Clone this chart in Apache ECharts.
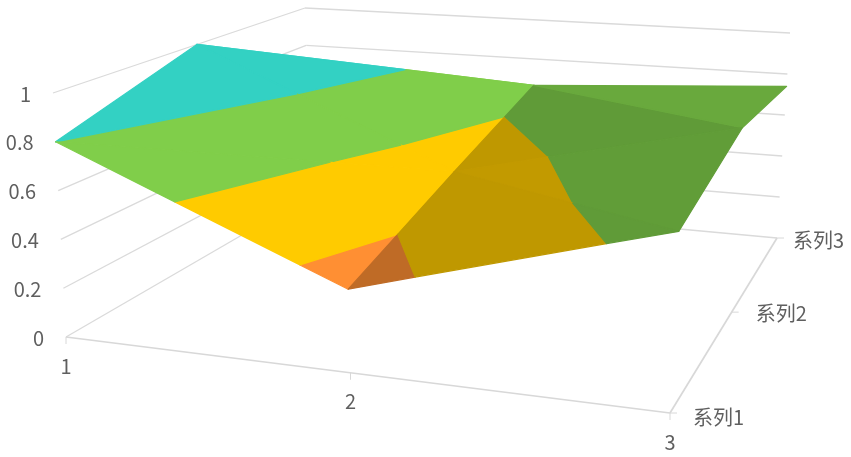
<!DOCTYPE html>
<html><head><meta charset="utf-8">
<style>html,body{margin:0;padding:0;background:#fff}#c{width:851px;height:457px;filter:blur(0.55px)}</style>
<script src="https://cdn.jsdelivr.net/npm/echarts@6/dist/echarts.min.js"></script>
</head><body><div id="c"></div>
<script>
// ---- data ----
const categories = ['1', '2', '3'];
const seriesNames = ['系列1', '系列2', '系列3'];
const valueTicks = [0, 0.2, 0.4, 0.6, 0.8, 1];
const series1 = [0.8, 0.325, 0.67];
const series2 = [1.0, 0.50, 0.79];
const series3 = [0.6, 0.665, 0.74];
const bandColors = ['#5B9BD5', '#FF8F33', '#FFCB00', '#80CE4A', '#33D1C3'];

// ---- view of the 3D box (floor and top corners of the plot box, on screen) ----
const floorQuad = [[66,337],[670,413],[777,238],[311,195]];
const topQuad   = [[53,93],[683,142],[790,33],[305,8]];
function quadMap(q){
  const [[x0,y0],[x1,y1],[x2,y2],[x3,y3]] = q;
  const dx1=x1-x2, dx2=x3-x2, sx=x0-x1+x2-x3, dy1=y1-y2, dy2=y3-y2, sy=y0-y1+y2-y3;
  const den=dx1*dy2-dx2*dy1, g=(sx*dy2-dx2*sy)/den, h=(dx1*sy-sx*dy1)/den;
  const a=x1-x0+g*x1, b=x3-x0+h*x3, d=y1-y0+g*y1, e=y3-y0+h*y3;
  return (u,v)=>{const w=g*u+h*v+1; return [(a*u+b*v+x0)/w,(d*u+e*v+y0)/w];};
}
const floorMap = quadMap(floorQuad), topMap = quadMap(topQuad);
function project(i,j,z){
  const u=i/(categories.length-1), v=j/(seriesNames.length-1);
  const f=floorMap(u,v), t=topMap(u,v);
  return [f[0]+(t[0]-f[0])*z, f[1]+(t[1]-f[1])*z];
}

// ---- surface facets, back to front: three grid nodes [cat, ser] + shade ----
const rows = [series1, series2, series3];
const facets = [
  [[0,1],[0,2],[1,2],1],
  [[0,1],[1,1],[1,2],1],
  [[0,0],[0,1],[1,1],1],
  [[0,0],[1,0],[1,1],1],
  [[1,1],[1,2],[2,1],0.75],
  [[1,2],[2,2],[2,1],0.82],
  [[1,1],[2,0],[2,1],0.76],
  [[1,0],[2,0],[1,1],0.75]
];
function clip(poly,lim,keepAbove){
  const out=[];
  for(let k=0;k<poly.length;k++){
    const a=poly[k], b=poly[(k+1)%poly.length];
    const ina=keepAbove?a[2]>=lim:a[2]<=lim, inb=keepAbove?b[2]>=lim:b[2]<=lim;
    if(ina) out.push(a);
    if(ina!==inb){const t=(lim-a[2])/(b[2]-a[2]);out.push([a[0]+(b[0]-a[0])*t,a[1]+(b[1]-a[1])*t,lim]);}
  }
  return out;
}
function shadeColor(hex,s){
  const n=parseInt(hex.slice(1),16);
  return 'rgb('+[(n>>16)&255,(n>>8)&255,n&255].map(c=>Math.round(c*s)).join(',')+')';
}
const patches=[];
facets.forEach(f=>{
  const tri=f.slice(0,3).map(([i,j])=>[i,j,rows[j][i]]);
  bandColors.forEach((col,b)=>{
    let p=clip(tri,valueTicks[b],true);
    if(p.length) p=clip(p,valueTicks[b+1],false);
    if(p.length>2) patches.push({poly:p,color:shadeColor(col,f[3])});
  });
});

// ---- frame lines: [start node, end node] in [cat, ser, z] ----
const n=categories.length-1, m=seriesNames.length-1;
const wallLines=[];
valueTicks.forEach(z=>{
  wallLines.push([[0,0,z],[0,m,z]]);
  wallLines.push([[0,m,z],[n,m,z]]);
});
const floorLines=[[[0,0,0],[n,0,0]],[[n,0,0],[n,m,0]]];
const lineItems=[...wallLines.map(l=>({l,c:'#dadada',w:1.3})),...floorLines.map(l=>({l,c:'#d8d8d8',w:1.7}))];

const labels=[];
valueTicks.forEach(z=>labels.push({text:String(z),at:[0,0,z],dx:-22,dy:1,align:'right'}));
categories.forEach((t,i)=>labels.push({text:t,at:[i,0,0],dx:0,dy:29,align:'center'}));
const serOffsets=[[23,4],[24,1],[16,2]];
seriesNames.forEach((t,j)=>labels.push({text:t,at:[n,j,0],dx:serOffsets[j][0],dy:serOffsets[j][1],align:'left'}));

const chart=echarts.init(document.getElementById('c'),null,{renderer:'canvas'});
const pt=(api,a)=>api.coord(project(a[0],a[1],a[2]));
chart.setOption({
  animation:false,
  backgroundColor:'#fff',
  grid:{left:0,right:0,top:0,bottom:0},
  xAxis:{type:'value',min:0,max:851,show:false},
  yAxis:{type:'value',min:0,max:457,inverse:true,show:false},
  series:[
    {type:'custom',coordinateSystem:'cartesian2d',silent:true,z:1,
      data:lineItems.map((_,i)=>[i]),
      renderItem(params,api){
        const it=lineItems[api.value(0)], a=pt(api,it.l[0]), b=pt(api,it.l[1]);
        return {type:'line',shape:{x1:a[0],y1:a[1],x2:b[0],y2:b[1]},style:{stroke:it.c,lineWidth:it.w}};
      }},
    {type:'custom',coordinateSystem:'cartesian2d',silent:true,z:2,
      data:[0,1,2].flatMap(i=>[[i,0],[i,1]]),
      renderItem(params,api){
        const i=api.value(0), kind=api.value(1);
        const a=kind===0?pt(api,[i,0,0]):pt(api,[n,i,0]);
        const b=kind===0?[a[0],a[1]+7]:[a[0]+7,a[1]];
        return {type:'line',shape:{x1:a[0],y1:a[1],x2:b[0],y2:b[1]},style:{stroke:'#d8d8d8',lineWidth:1}};
      }},
    {type:'custom',coordinateSystem:'cartesian2d',silent:true,z:3,
      data:patches.map((_,i)=>[i]),
      renderItem(params,api){
        const p=patches[api.value(0)];
        return {type:'polygon',shape:{points:p.poly.map(q=>pt(api,q))},
          style:{fill:p.color,stroke:p.color,lineWidth:1.2,lineJoin:'round'}};
      }},
    {type:'custom',coordinateSystem:'cartesian2d',silent:true,z:4,
      data:labels.map((_,i)=>[i]),
      renderItem(params,api){
        const l=labels[api.value(0)], a=pt(api,l.at);
        return {type:'text',style:{x:a[0]+l.dx,y:a[1]+l.dy,text:l.text,align:l.align,verticalAlign:'middle',
          fill:'#5f5f5f',font:'20px "Noto Sans CJK SC","Open Sans",sans-serif'}};
      }}
  ]
});
</script></body></html>
